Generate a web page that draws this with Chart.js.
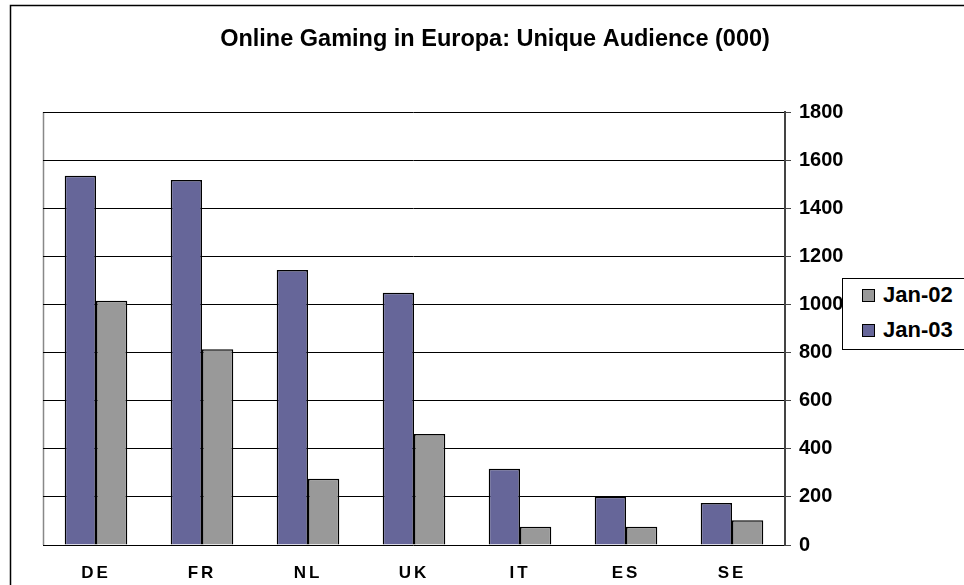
<!DOCTYPE html>
<html>
<head>
<meta charset="utf-8">
<script src="https://cdn.jsdelivr.net/npm/chart.js@4.4.1/dist/chart.umd.min.js"></script>
<style>
  html, body { margin: 0; padding: 0; background: #fff; overflow: hidden; width: 964px; height: 585px; }
  #wrap { position: absolute; left: 0; top: 0; width: 990px; height: 600px; }
  #legend { position: absolute; left: 842px; top: 278px; width: 140px; height: 70px;
            border: 1px solid #000; background: #fff; font: bold 22px "Liberation Sans", Arial, sans-serif; color: #000; }
  .item { position: absolute; left: 19px; height: 26px; display: flex; align-items: center; }
  .sw { width: 11px; height: 11px; border: 1px solid #000; margin-right: 8px; }
</style>
</head>
<body>
<div id="wrap"><canvas id="c" width="990" height="600"></canvas></div>
<div id="legend"></div>
<script>
const categories = ["DE", "FR", "NL", "UK", "IT", "ES", "SE"];
const jan03 = [1535, 1517, 1143, 1049, 317, 201, 175];
const jan02 = [1015, 814, 275, 461, 76, 76, 103];
const yTicks = [0, 200, 400, 600, 800, 1000, 1200, 1400, 1600, 1800];
const titleText = "Online Gaming in Europa: Unique Audience (000)";

const FONT = '"Liberation Sans", Arial, sans-serif';

const framePlugin = {
  id: 'frame',
  beforeDraw(chart) {
    const ctx = chart.ctx, a = chart.chartArea;
    ctx.save();
    ctx.strokeStyle = '#000';
    ctx.lineWidth = 1.5;
    ctx.strokeRect(10.5, 5.5, 2000, 2000);
    ctx.strokeStyle = '#888';
    ctx.lineWidth = 1.5;
    ctx.beginPath();
    ctx.moveTo(a.left + 0.5, a.top);
    ctx.lineTo(a.left + 0.5, a.bottom);
    ctx.stroke();
    ctx.restore();
    const sx = chart.scales.x;
    if (sx && !sx._spaced) {
      const orig = sx.drawLabels;
      sx.drawLabels = function (area) {
        const c = this.ctx;
        c.save();
        c.letterSpacing = '3px';
        orig.call(this, area);
        c.restore();
      };
      sx._spaced = true;
    }
  }
};

const chart = new Chart(document.getElementById('c'), {
  type: 'bar',
  data: {
    labels: categories,
    datasets: [
      { label: 'Jan-03', data: jan03, backgroundColor: '#666699', borderColor: '#000', borderWidth: 1.5 },
      { label: 'Jan-02', data: jan02, backgroundColor: '#999999', borderColor: '#000', borderWidth: 1.5 }
    ]
  },
  options: {
    responsive: false,
    animation: false,
    events: [],
    layout: { padding: { left: 43, right: 43, top: 0, bottom: 0 } },
    datasets: { bar: { categoryPercentage: 0.59, barPercentage: 1.0 } },
    plugins: {
      legend: { display: false },
      tooltip: { enabled: false },
      title: {
        display: true, text: titleText, color: '#000',
        font: { family: FONT, size: 23.5, weight: 'bold' },
        padding: { top: 25, bottom: 58.8 }
      }
    },
    scales: {
      x: {
        grid: { display: false },
        border: { display: false },
        ticks: { color: '#000', font: { family: FONT, size: 17, weight: 'bold' }, padding: 10 },
        afterFit(s) { s.height = 55; }
      },
      y: {
        position: 'right',
        min: 0, max: 1800,
        afterBuildTicks(s) { s.ticks = yTicks.map(v => ({ value: v })); },
        ticks: { color: '#000', font: { family: FONT, size: 20, weight: 'bold' }, padding: 8,
                 callback: (v) => String(v) },
        grid: { color: '#000', lineWidth: 1, tickLength: 6, tickColor: '#444' },
        border: { color: '#444', width: 2 },
        afterFit(s) { s.width = 162; }
      }
    }
  },
  plugins: [framePlugin]
});

// HTML legend (reverse order like the reference)
const lg = document.getElementById('legend');
chart.data.datasets.slice().reverse().forEach((ds, i) => {
  const it = document.createElement('div');
  it.className = 'item';
  it.style.top = (3 + i * 35) + 'px';
  const sw = document.createElement('span');
  sw.className = 'sw';
  sw.style.background = ds.backgroundColor;
  const tx = document.createElement('span');
  tx.textContent = ds.label;
  it.appendChild(sw); it.appendChild(tx);
  lg.appendChild(it);
});
</script>
</body>
</html>
